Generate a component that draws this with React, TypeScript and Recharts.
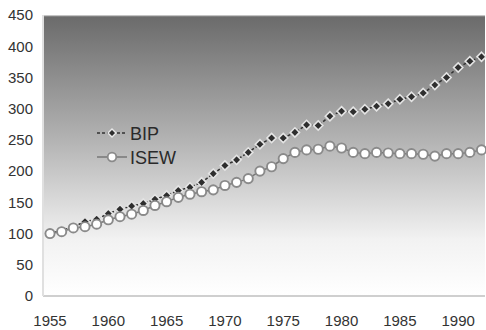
import React from 'react';
import { LineChart, Line, XAxis, YAxis, ReferenceArea } from 'recharts';

const years = [
  1955, 1956, 1957, 1958, 1959, 1960, 1961, 1962, 1963, 1964,
  1965, 1966, 1967, 1968, 1969, 1970, 1971, 1972, 1973, 1974,
  1975, 1976, 1977, 1978, 1979, 1980, 1981, 1982, 1983, 1984,
  1985, 1986, 1987, 1988, 1989, 1990, 1991, 1992
];
const bip = [
  100, 105, 111, 119, 123, 132, 139, 144, 148, 155,
  161, 169, 174, 182, 196, 209, 218, 230, 243, 253,
  253, 262, 274, 273, 288, 296, 295, 299, 304, 308,
  315, 319, 325, 338, 350, 366, 376, 383
];
const isew = [
  100, 103, 109, 111, 115, 122, 127, 131, 137, 145,
  151, 158, 163, 167, 170, 177, 182, 188, 200, 207,
  220, 230, 234, 235, 240, 237, 230, 228, 230, 229,
  228, 228, 227, 224, 228, 228, 230, 234
];
const xTicks = [1955, 1960, 1965, 1970, 1975, 1980, 1985, 1990];
const yTicks = [0, 50, 100, 150, 200, 250, 300, 350, 400, 450];
const seriesNames = ['BIP', 'ISEW'];

const data = years.map((y, i) => ({ year: y, bip: bip[i], isew: isew[i] }));

const FONT = 'Liberation Sans, Arial, sans-serif';

const Diamond = (props: any) => {
  const { cx, cy } = props;
  if (cx == null || cy == null) return null;
  const r = 4.6;
  return (
    <polygon
      points={`${cx},${cy - r} ${cx + r},${cy} ${cx},${cy + r} ${cx - r},${cy}`}
      fill="#2e2e2e"
      stroke="#e4e4e4"
      strokeWidth={1.6}
    />
  );
};

const Ring = (props: any) => {
  const { cx, cy } = props;
  if (cx == null || cy == null) return null;
  return <circle cx={cx} cy={cy} r={4.6} fill="#ffffff" stroke="#8a8a8a" strokeWidth={1.9} />;
};

// legend sits inside the plot, drawn by hand
const LegendBox = () => (
  <svg width={100} height={50} style={{ position: 'absolute', left: 95, top: 121 }}>
    <line x1={2} y1={12} x2={32} y2={12} stroke="#333" strokeWidth={1.5} strokeDasharray="3 2" />
    <polygon points="17,8 21,12 17,16 13,12" fill="#2e2e2e" stroke="#e8e8e8" strokeWidth={1.4} />
    <text x={35} y={18.5} fontSize={18} fill="#2a2a2a" fontFamily={FONT}>{seriesNames[0]}</text>
    <line x1={2} y1={36} x2={32} y2={36} stroke="#777" strokeWidth={1.5} />
    <circle cx={17} cy={36} r={4.3} fill="#fff" stroke="#8a8a8a" strokeWidth={1.8} />
    <text x={35} y={42.5} fontSize={18} fill="#2a2a2a" fontFamily={FONT}>{seriesNames[1]}</text>
  </svg>
);

export default function App() {
  const tickStyle = { fill: '#333', fontSize: 15, fontFamily: FONT };
  return (
    <div style={{ position: 'absolute', left: 0, top: 0, width: 486, height: 330, background: '#fff' }}>
      <LineChart width={486} height={330} data={data} margin={{ top: 15, right: 1, left: 0, bottom: 10 }}>
        <defs>
          <linearGradient id="bg" x1="0" y1="0" x2="0" y2="1">
            <stop offset="0%" stopColor="#6a6a6a" />
            <stop offset="45%" stopColor="#b4b4b4" />
            <stop offset="80%" stopColor="#f2f2f2" />
            <stop offset="100%" stopColor="#ffffff" />
          </linearGradient>
        </defs>
        <XAxis
          dataKey="year"
          type="number"
          domain={[1954.4, 1992.3]}
          ticks={xTicks}
          tickLine={false}
          tickSize={0}
          tickMargin={19}
          height={24}
          axisLine={{ stroke: '#cfcfcf', strokeWidth: 2 }}
          tick={tickStyle}
        />
        <YAxis
          domain={[0, 450]}
          ticks={yTicks}
          tickLine={false}
          tickSize={0}
          tickMargin={10}
          width={43}
          axisLine={{ stroke: '#e0e0e0', strokeWidth: 2 }}
          tick={tickStyle}
        />
        <ReferenceArea x1={1954.4} x2={1992.3} y1={0} y2={450} fill="url(#bg)" fillOpacity={1} stroke="none" />
        <ReferenceArea x1={1954.4} x2={1992.3} y1={448} y2={450} fill="#c4c4c4" fillOpacity={1} stroke="none" />
        <Line
          dataKey="bip"
          name={seriesNames[0]}
          stroke="#333"
          strokeWidth={1.5}
          strokeDasharray="3 2"
          dot={<Diamond />}
          isAnimationActive={false}
        />
        <Line
          dataKey="isew"
          name={seriesNames[1]}
          stroke="#777"
          strokeWidth={1.5}
          dot={<Ring />}
          isAnimationActive={false}
        />
      </LineChart>
      <LegendBox />
    </div>
  );
}
